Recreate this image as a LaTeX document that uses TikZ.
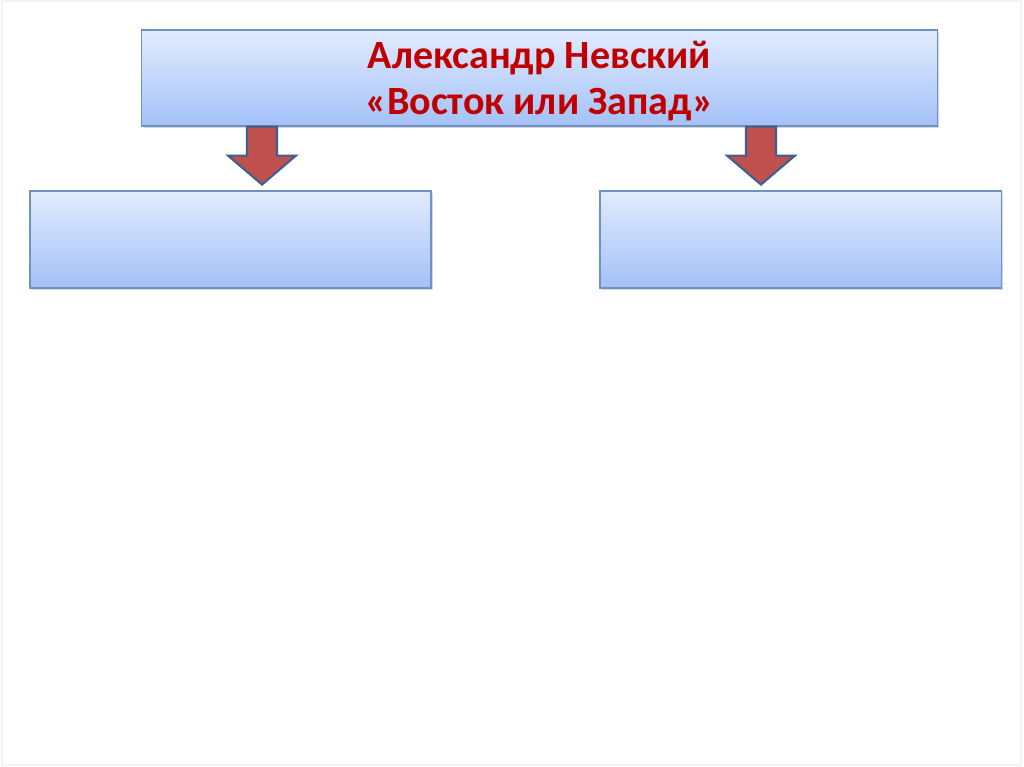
\documentclass[tikz,border=0pt]{standalone}
\usepackage{fontspec}
\setmainfont{Carlito}
\usepackage{xcolor}
\usepackage{tikz}
\usetikzlibrary{positioning,shadows,calc}
\definecolor{boxtop}{HTML}{E1EBFD}
\definecolor{boxbottom}{HTML}{A3C1F7}
\definecolor{boxline}{HTML}{7191C4}
\definecolor{titlered}{HTML}{C00000}
\definecolor{arrowred}{HTML}{C0504D}
\definecolor{arrowline}{HTML}{3F5F8F}
\definecolor{slideedge}{HTML}{F2F2F2}
\tikzset{
  panel/.style={draw=boxline, line width=0.8pt, top color=boxtop, bottom color=boxbottom,
    drop shadow={opacity=0.3, shadow xshift=1.2pt, shadow yshift=-1.6pt}},
  downarrow/.style={fill=arrowred, draw=arrowline, line width=1.5pt, line join=miter}
}

\begin{document}
\begin{tikzpicture}[x=0.025cm, y=-0.025cm]
  \useasboundingbox (0,0) rectangle (1024,767);
  \fill[white] (0,0) rectangle (1024,767);
  \draw[slideedge, line width=0.8pt] (2,1) rectangle (1021,765);
  % title and the two empty boxes
  \node[panel, minimum width=19.875cm, minimum height=2.4cm] (title) at (539.5,78) {};
  \node[align=center, text=titlered, font=\bfseries\fontsize{28.5}{32.5}\selectfont,
        inner sep=0pt] (titletext) at (539.5,81) {Александр Невский\\«Восток или Запад»};
  \node[panel, minimum width=10.025cm, minimum height=2.425cm] (west) at (230.5,239.5) {};
  \node[panel, minimum width=10.025cm, minimum height=2.425cm] (east) at (800.5,239.5) {};
  % block arrows hanging under the title
  \foreach \ax/\nm in {262/west, 761/east} {
    \coordinate (\nm root) at (title.south -| \ax,0);
    \coordinate (\nm tip) at ($(\nm root)+(0,58)$);
    \draw[downarrow] ($(\nm root)+(-15,0)$) -- ($(\nm root)+(15,0)$) -- ($(\nm root)+(15,29)$)
      -- ($(\nm root)+(34,29)$) -- (\nm tip) -- ($(\nm root)+(-34,29)$)
      -- ($(\nm root)+(-15,29)$) -- cycle;
  }
\end{tikzpicture}
\end{document}
